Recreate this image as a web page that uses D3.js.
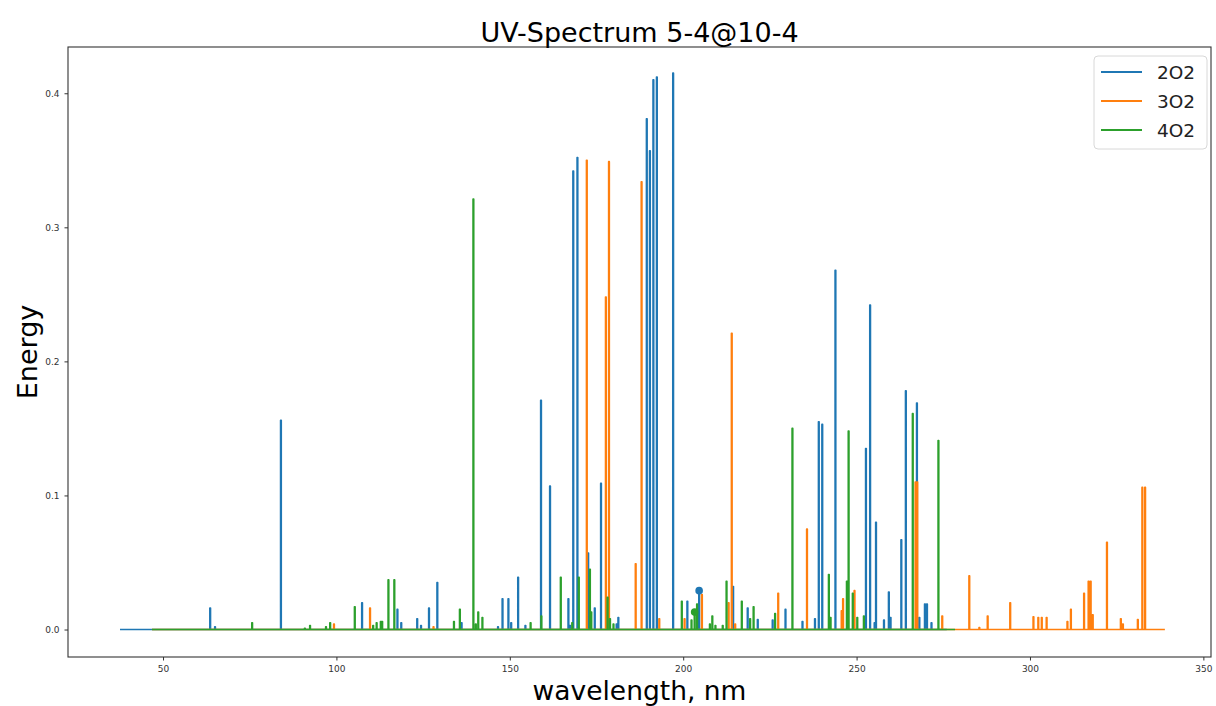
<!DOCTYPE html>
<html>
<head>
<meta charset="utf-8">
<script src="https://cdn.jsdelivr.net/npm/d3@7"></script>
<style>
  body { margin: 0; background: #fff; }
  text { font-family: "DejaVu Sans", sans-serif; }
</style>
</head>
<body>
<svg id="drawing_region"></svg>
<script>
// series names
const series_names = ['2O2', '3O2', '4O2'];

// 2O2 peaks (nm, energy)
const wl_2o2 = [63.6, 65.0, 84.0, 107.4, 117.6, 118.7, 123.3, 124.4, 126.7, 129.1, 136.1, 146.6, 147.9, 149.6, 150.4,
    152.4, 154.5, 159.0, 161.6, 166.9, 167.4, 168.3, 169.5, 172.6, 174.5, 176.3, 180.8, 181.3, 189.5, 190.4,
    191.4, 192.4, 197.1, 201.2, 204.6, 214.4, 218.6, 221.5, 225.8, 229.5, 234.4, 238.0, 239.1, 240.1, 243.9,
    252.7, 253.9, 255.2, 255.6, 257.9, 259.3, 259.8, 262.9, 264.2, 267.4, 268.1, 269.7, 270.3, 271.6];
const en_2o2 = [0.016, 0.002, 0.156, 0.020, 0.015, 0.005, 0.008, 0.003, 0.016, 0.035, 0.005, 0.002, 0.023, 0.023, 0.005,
    0.039, 0.003, 0.171, 0.107, 0.023, 0.003, 0.342, 0.352, 0.057, 0.016, 0.109, 0.004, 0.009, 0.381, 0.357,
    0.410, 0.412, 0.415, 0.021, 0.029, 0.032, 0.016, 0.0075, 0.007, 0.015, 0.006, 0.008, 0.155, 0.153, 0.268,
    0.135, 0.242, 0.005, 0.080, 0.007, 0.028, 0.009, 0.067, 0.178, 0.169, 0.009, 0.019, 0.019, 0.005];
const range_2o2 = [37.6, 276.0];

// 3O2 peaks
const wl_3o2 = [99.3, 109.7, 128.0, 172.2, 177.7, 178.6, 186.3, 188.0, 193.1, 200.4, 205.4, 213.1, 214.0, 215.0,
    227.4, 235.7, 245.7, 246.1, 249.4, 267.0, 267.5, 274.7, 282.5, 285.4, 287.8, 294.3, 301.0, 302.4, 303.4,
    304.8, 310.8, 311.8, 315.6, 316.9, 317.5, 318.1, 322.2, 326.2, 326.8, 331.1, 332.4, 333.2];
const en_3o2 = [0.004, 0.016, 0.002, 0.350, 0.248, 0.349, 0.049, 0.334, 0.008, 0.008, 0.026, 0.020, 0.221, 0.004,
    0.027, 0.075, 0.014, 0.023, 0.029, 0.110, 0.110, 0.010, 0.040, 0.0015, 0.010, 0.020, 0.0095, 0.009, 0.009,
    0.009, 0.006, 0.015, 0.027, 0.036, 0.036, 0.011, 0.065, 0.008, 0.004, 0.0075, 0.106, 0.106];
const range_3o2 = [46.8, 338.9];

// 4O2 peaks
const wl_4o2 = [75.7, 90.9, 92.4, 97.0, 98.2, 105.3, 110.6, 111.6, 112.8, 113.2, 115.0, 116.7, 133.9, 135.6, 139.5,
    140.2, 140.9, 142.1, 156.0, 159.1, 164.7, 168.0, 169.9, 173.1, 173.5, 178.2, 178.9, 179.9, 199.6, 202.4,
    203.3, 204.0, 207.7, 208.4, 209.3, 211.4, 212.5, 216.9, 219.3, 220.3, 226.5, 231.5, 242.0, 242.5, 247.2,
    247.7, 248.9, 250.2, 252.1, 266.2, 273.6];
const en_4o2 = [0.005, 0.001, 0.003, 0.002, 0.005, 0.017, 0.003, 0.005, 0.006, 0.006, 0.037, 0.037, 0.006, 0.015, 0.321,
    0.004, 0.013, 0.009, 0.005, 0.010, 0.039, 0.005, 0.039, 0.045, 0.013, 0.024, 0.008, 0.004, 0.021, 0.007,
    0.013, 0.019, 0.004, 0.010, 0.003, 0.003, 0.036, 0.021, 0.008, 0.017, 0.012, 0.150, 0.041, 0.009, 0.036,
    0.148, 0.027, 0.009, 0.010, 0.161, 0.141];
const range_4o2 = [46.8, 278.4];

// single markers seen on the plot
const marker_series = [0, 2];
const marker_wl = [204.6, 203.3];
const marker_en = [0.029, 0.013];

// axis ticks
const x_ticks = [50, 100, 150, 200, 250, 300, 350];
const y_ticks = [0.0, 0.1, 0.2, 0.3, 0.4];

const colors = ['#1f77b4', '#ff7f0e', '#2ca02c'];

class SpectrumChart {
    constructor(config, data) {
        this.config = config;
        this.data = data;
        this.init();
    }

    init() {
        let self = this;
        self.svg = d3.select(self.config.parent)
            .attr('width', self.config.width)
            .attr('height', self.config.height);

        const m = self.config.margin;
        self.inner_width = self.config.width - m.left - m.right;
        self.inner_height = self.config.height - m.top - m.bottom;

        self.chart = self.svg.append('g')
            .attr('transform', `translate(${m.left},${m.top})`);

        self.xscale = d3.scaleLinear().domain([22.6, 352.2]).range([0, self.inner_width]);
        self.yscale = d3.scaleLinear().domain([-0.0205, 0.4345]).range([self.inner_height, 0]);
    }

    render() {
        let self = this;
        const half = 0.1;

        const line = d3.line()
            .x(d => self.xscale(d[0]))
            .y(d => self.yscale(d[1]));

        self.data.forEach((s, i) => {
            const idx = d3.range(s.wl.length).sort((a, b) => s.wl[a] - s.wl[b]);
            const pts = [[s.range[0], 0]];
            idx.forEach(k => {
                const w = s.wl[k], e = s.en[k];
                pts.push([w - half, 0], [w - half, e], [w + half, e], [w + half, 0]);
            });
            pts.push([s.range[1], 0]);
            self.chart.append('path')
                .attr('d', line(pts))
                .attr('fill', 'none')
                .attr('stroke', colors[i])
                .attr('stroke-width', 1.6)
                .attr('stroke-linejoin', 'round');
        });

        marker_wl.forEach((w, k) => {
            self.chart.append('circle')
                .attr('cx', self.xscale(w))
                .attr('cy', self.yscale(marker_en[k]))
                .attr('r', 3.8)
                .attr('fill', colors[marker_series[k]]);
        });

        // frame
        self.chart.append('rect')
            .attr('width', self.inner_width)
            .attr('height', self.inner_height)
            .attr('fill', 'none')
            .attr('stroke', '#333')
            .attr('stroke-width', 1.1);

        const xaxis = d3.axisBottom(self.xscale)
            .tickValues(x_ticks)
            .tickSize(3.5)
            .tickPadding(5)
            .tickFormat(d3.format('d'));
        const yaxis = d3.axisLeft(self.yscale)
            .tickValues(y_ticks)
            .tickSize(3.5)
            .tickPadding(5)
            .tickFormat(d3.format('.1f'));

        const xg = self.chart.append('g')
            .attr('transform', `translate(0,${self.inner_height})`)
            .call(xaxis);
        const yg = self.chart.append('g').call(yaxis);
        [xg, yg].forEach(g => {
            g.select('.domain').remove();
            g.selectAll('line').attr('stroke', '#333');
            g.selectAll('text').attr('fill', '#333')
                .style('font-size', '9px')
                .style('font-family', '"DejaVu Sans", sans-serif');
        });

        const cx = self.config.margin.left + self.inner_width / 2;
        self.svg.append('text')
            .attr('x', cx).attr('y', 42)
            .attr('text-anchor', 'middle')
            .style('font-size', '27px')
            .text('UV-Spectrum 5-4@10-4');

        self.svg.append('text')
            .attr('x', cx).attr('y', 700)
            .attr('text-anchor', 'middle')
            .style('font-size', '26.5px')
            .text('wavelength, nm');

        self.svg.append('text')
            .attr('transform', `translate(37,${self.config.margin.top + self.inner_height / 2}) rotate(-90)`)
            .attr('text-anchor', 'middle')
            .style('font-size', '27px')
            .text('Energy');

        // legend
        const lg = self.svg.append('g').attr('transform', 'translate(1094,56)');
        lg.append('rect')
            .attr('width', 113).attr('height', 93)
            .attr('rx', 4)
            .attr('fill', 'white').attr('fill-opacity', 0.8)
            .attr('stroke', '#d8d8d8');
        series_names.forEach((name, i) => {
            const y = 16 + i * 29;
            lg.append('line')
                .attr('x1', 7).attr('x2', 48)
                .attr('y1', y).attr('y2', y)
                .attr('stroke', colors[i]).attr('stroke-width', 1.8);
            lg.append('text')
                .attr('x', 63).attr('y', y + 6.5)
                .style('font-size', '18.5px')
                .attr('fill', '#222')
                .text(name);
        });
    }
}

const chart = new SpectrumChart({
    parent: '#drawing_region',
    width: 1216,
    height: 706,
    margin: { top: 47, right: 5, bottom: 49, left: 68 }
}, [
    { wl: wl_2o2, en: en_2o2, range: range_2o2 },
    { wl: wl_3o2, en: en_3o2, range: range_3o2 },
    { wl: wl_4o2, en: en_4o2, range: range_4o2 }
]);
chart.render();
</script>
</body>
</html>
